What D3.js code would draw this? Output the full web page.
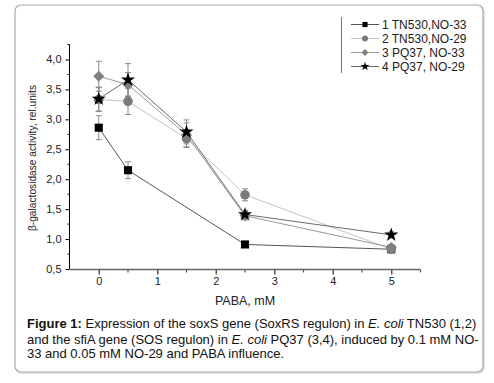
<!DOCTYPE html>
<html>
<head>
<meta charset="utf-8">
<script src="https://cdn.jsdelivr.net/npm/d3@7"></script>
<style>
  body { margin: 0; background: #fff; }
  svg { display: block; font-family: "Liberation Sans", Arial, sans-serif; }
</style>
</head>
<body>
<div id="chart"></div>
<script>
// data
var seriesNames = ["1 TN530,NO-33", "2 TN530,NO-29", "3 PQ37, NO-33", "4 PQ37, NO-29"]
var xS1 = [0, 0.5, 2.5, 5]
var yS1 = [2.86, 2.15, 0.91, 0.83]
var eS1 = [0.2, 0.14, 0.03, 0.03]
var xS2 = [0, 0.5, 1.5, 2.5, 5]
var yS2 = [3.33, 3.30, 2.68, 1.74, 0.83]
var eS2 = [0.2, 0.22, 0.15, 0.1, 0.05]
var xS3 = [0, 0.5, 1.5, 2.5, 5]
var yS3 = [3.72, 3.58, 2.74, 1.39, 0.86]
var eS3 = [0.25, 0.2, 0.2, 0.07, 0.05]
var xS4 = [0, 0.5, 1.5, 2.5, 5]
var yS4 = [3.34, 3.66, 2.79, 1.41, 1.07]
var eS4 = [0.2, 0.27, 0.2, 0.07, 0.05]
var xTicks = [0, 1, 2, 3, 4, 5]
var yTicks = [0.5, 1, 1.5, 2, 2.5, 3, 3.5, 4]

var W = 494, H = 383
var svg = d3.select("#chart").append("svg").attr("width", W).attr("height", H)

// outer rounded frame
svg.append("rect").attr("x", 16).attr("y", 6).attr("width", 468).attr("height", 367)
  .attr("rx", 6).attr("fill", "none").attr("stroke", "#e2e2e2").attr("stroke-width", 2)
svg.append("rect").attr("x", 15).attr("y", 5).attr("width", 468).attr("height", 367)
  .attr("rx", 6).attr("fill", "#fff").attr("stroke", "#a8a8a8").attr("stroke-width", 1.2)

var x = d3.scaleLinear().domain([-0.5, 5.5]).range([69.5, 420.5])
var y = d3.scaleLinear().domain([0.5, 4.25]).range([269, 44.5])

var styles = [
  { sym: "square", fill: "#000", line: "#555" },
  { sym: "circle", fill: "#7a7a7a", line: "#c4c4c4" },
  { sym: "diamond", fill: "#808080", line: "#9a9a9a" },
  { sym: "star", fill: "#000", line: "#6a6a6a" }
]
var series = [
  { xs: xS1, ys: yS1, es: eS1 },
  { xs: xS2, ys: yS2, es: eS2 },
  { xs: xS3, ys: yS3, es: eS3 },
  { xs: xS4, ys: yS4, es: eS4 }
]

function symbolPath(kind, scale) {
  if (kind == "square") return d3.symbol(d3.symbolSquare, 66 * scale)()
  if (kind == "circle") return d3.symbol(d3.symbolCircle, 72 * scale)()
  if (kind == "diamond") return d3.symbol(d3.symbolSquare, 62 * scale)()
  return d3.symbol(d3.symbolStar, 62 * scale)()
}

// axes
var yAxis = svg.append("g").attr("transform", "translate(69.5,0)")
  .call(d3.axisLeft(y).tickValues(yTicks).tickSize(4).tickFormat(function (d) { return d3.format(".1f")(d).replace(".", ",") }))
yAxis.select(".domain").attr("stroke", "#000").attr("d", "M0," + y(4.25) + "V" + y(0.5))
yAxis.selectAll(".tick line").attr("stroke", "#000")
yAxis.selectAll("text").attr("font-size", 11).attr("fill", "#222").attr("x", -8)
yAxis.append("g").selectAll("line").data(d3.range(0.75, 4.3, 0.5)).enter().append("line")
  .attr("x1", -2).attr("x2", 0).attr("y1", function (d) { return y(d) }).attr("y2", function (d) { return y(d) })
  .attr("stroke", "#000")

var xAxis = svg.append("g").attr("transform", "translate(0,269.5)")
  .call(d3.axisBottom(x).tickValues(xTicks).tickSize(5).tickFormat(d3.format("d")))
xAxis.select(".domain").attr("stroke", "#666").attr("stroke-width", 1.5).attr("d", "M" + x(-0.5) + ",0H" + x(5.5))
xAxis.selectAll(".tick line").attr("stroke", "#555").attr("stroke-width", 1.5)
xAxis.selectAll("text").attr("font-size", 11).attr("fill", "#222").attr("y", 8)
xAxis.append("g").selectAll("line").data(d3.range(0.5, 5.6, 1)).enter().append("line")
  .attr("y1", 0).attr("y2", 3).attr("x1", function (d) { return x(d) }).attr("x2", function (d) { return x(d) })
  .attr("stroke", "#555").attr("stroke-width", 1.2)

svg.append("text").attr("x", x(2.5)).attr("y", 305).attr("text-anchor", "middle")
  .attr("font-size", 12.5).attr("fill", "#222").text("PABA, mM")
svg.append("text").attr("transform", "translate(35.5,158) rotate(-90)").attr("text-anchor", "middle")
  .attr("font-size", 10.2).attr("fill", "#222").text("β-galactosidase activity, rel.units")

// lines
var plot = svg.append("g")
series.forEach(function (s, i) {
  var pts = s.xs.map(function (v, j) { return [v, s.ys[j], s.es[j]] })
  plot.append("path").datum(pts)
    .attr("fill", "none").attr("stroke", styles[i].line).attr("stroke-width", 1)
    .attr("d", d3.line().x(function (d) { return x(d[0]) }).y(function (d) { return y(d[1]) }))
})
// error bars
series.forEach(function (s, i) {
  var pts = s.xs.map(function (v, j) { return [v, s.ys[j], s.es[j]] })
  var g = plot.append("g").attr("stroke", "#8a8a8a").attr("stroke-width", 1)
  g.selectAll(".v").data(pts).enter().append("line")
    .attr("x1", function (d) { return x(d[0]) }).attr("x2", function (d) { return x(d[0]) })
    .attr("y1", function (d) { return y(d[1] - d[2]) }).attr("y2", function (d) { return y(d[1] + d[2]) })
  ;[-1, 1].forEach(function (sg) {
    g.selectAll(".c" + sg).data(pts).enter().append("line")
      .attr("x1", function (d) { return x(d[0]) - 3 }).attr("x2", function (d) { return x(d[0]) + 3 })
      .attr("y1", function (d) { return y(d[1] + sg * d[2]) }).attr("y2", function (d) { return y(d[1] + sg * d[2]) })
  })
})
// markers
series.forEach(function (s, i) {
  var pts = s.xs.map(function (v, j) { return [v, s.ys[j]] })
  plot.append("g").selectAll("path").data(pts).enter().append("path")
    .attr("d", symbolPath(styles[i].sym, 1))
    .attr("transform", function (d) { return "translate(" + x(d[0]) + "," + y(d[1]) + ")" + (styles[i].sym == "diamond" ? " rotate(45)" : "") })
    .attr("fill", styles[i].fill)
})

// legend
var lg = svg.append("g")
lg.append("line").attr("x1", 341.5).attr("x2", 341.5).attr("y1", 17).attr("y2", 73).attr("stroke", "#777")
seriesNames.forEach(function (n, i) {
  var yy = 24.5 + i * 14
  lg.append("line").attr("x1", 351).attr("x2", 379).attr("y1", yy).attr("y2", yy)
    .attr("stroke", styles[i].line).attr("stroke-width", 1)
  lg.append("path").attr("d", symbolPath(styles[i].sym, 0.4))
    .attr("transform", "translate(365," + yy + ")" + (styles[i].sym == "diamond" ? " rotate(45)" : ""))
    .attr("fill", styles[i].fill)
  lg.append("text").attr("x", 382).attr("y", yy + 4).attr("font-size", 12).attr("fill", "#222").text(n)
})

// caption
var cap = svg.append("text").attr("x", 27).attr("y", 328).attr("font-size", 13).attr("fill", "#111")
var l1 = cap.append("tspan").attr("x", 27).attr("y", 328)
l1.append("tspan").attr("font-weight", "bold").text("Figure 1:")
l1.append("tspan").text(" Expression of the soxS gene (SoxRS regulon) in ")
l1.append("tspan").attr("font-style", "italic").text("E. coli")
l1.append("tspan").text(" TN530 (1,2)")
var l2 = cap.append("tspan").attr("x", 27).attr("y", 343.5)
l2.append("tspan").text("and the sfiA gene (SOS regulon) in ")
l2.append("tspan").attr("font-style", "italic").text("E. coli")
l2.append("tspan").text(" PQ37 (3,4), induced by 0.1 mM NO-")
cap.append("tspan").attr("x", 27).attr("y", 358).text("33 and 0.05 mM NO-29 and PABA influence.")
</script>
</body>
</html>
